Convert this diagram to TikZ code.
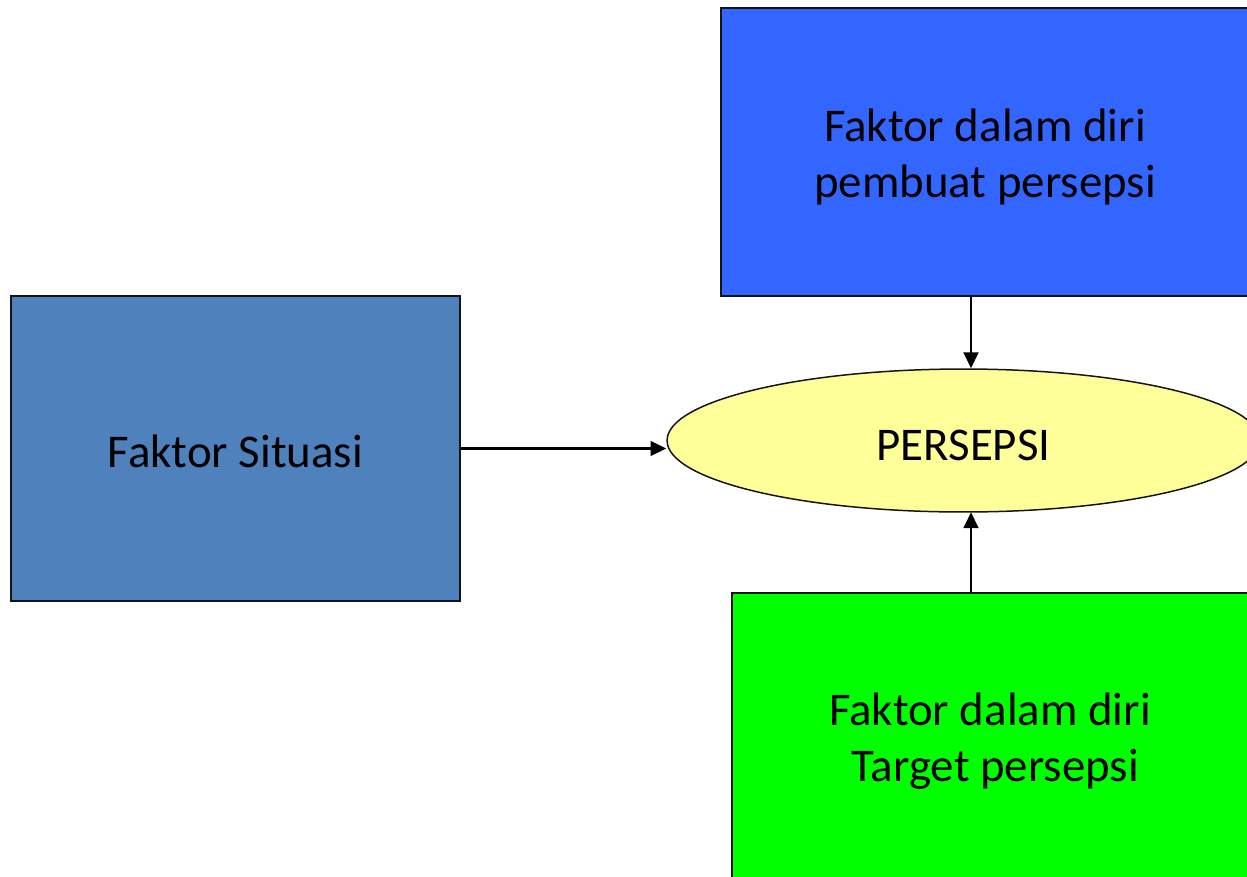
\documentclass[tikz,border=0pt]{standalone}
\usepackage{fontspec}
\setmainfont{Carlito}
\usepackage{xcolor}
\usepackage{tikz}
\usetikzlibrary{calc,positioning,shapes.geometric,arrows.meta}
\definecolor{situcol}{HTML}{4F81BD}
\definecolor{pembcol}{HTML}{3366FF}
\definecolor{targcol}{HTML}{00FF00}
\definecolor{perscol}{HTML}{FFFF99}
\definecolor{edgeline}{HTML}{141414}
\newcommand{\toppad}[1]{\rule{0pt}{#1}}
\tikzset{
  faktorbox/.style = {draw=edgeline, line width=0.85pt, inner sep=0pt,
                      align=center, font=\fontsize{26.7}{32}\selectfont},
  fsitu/.style     = {faktorbox, fill=situcol},
  fpemb/.style     = {faktorbox, fill=pembcol},
  ftarg/.style     = {faktorbox, fill=targcol},
  persnode/.style  = {ellipse, draw=edgeline, line width=0.85pt, inner sep=0pt,
                      fill=perscol, font=\fontsize{26.7}{32}\selectfont},
  arr/.style       = {draw=black, line width=1.15pt,
                      -{Triangle[length=9pt, width=8.4pt]}},
}

\begin{document}
\begin{tikzpicture}[x=0.02cm, y=-0.02cm]

    % ---------- canvas ----------------------------------------------------
    \useasboundingbox (0,0) rectangle (1247,876);
    \clip (0,0) rectangle (1247,876);

    % ---------- centres ---------------------------------------------------
    \coordinate (c-situ) at (235.5,448.5);
    \coordinate (c-pemb) at (985,152);
    \coordinate (c-targ) at (990,741.5);
    \coordinate (c-pers) at (963.5,440.5);
    \coordinate (arrx)   at (971,0);

    % ---------- boxes -----------------------------------------------------
    \node[fsitu, minimum width=8.98cm, minimum height=6.1cm] (situ) at (c-situ)
      {\toppad{22.2pt}Faktor Situasi};
    \node[fpemb, minimum width=10.56cm, minimum height=5.76cm] (pemb) at (c-pemb)
      {\toppad{24.4pt}Faktor dalam diri\\pembuat persepsi};
    \node[ftarg, minimum width=10.32cm, minimum height=5.94cm] (targ) at (c-targ)
      {Faktor dalam diri\\\hspace*{.23em}Target persepsi};

    % ---------- perception -----------------------------------------------
    \node[persnode, minimum width=11.86cm, minimum height=2.86cm] (pers) at (c-pers)
      {\toppad{23pt}PERSEPSI};

    % ---------- arrows ---------------------------------------------------
    \draw[arr] (situ.east) -- (situ.east -| pers.west);
    \draw[arr] (pemb.south -| arrx) -- (pers.north -| arrx);
    \draw[arr] (targ.north -| arrx) -- ($(pers.south -| arrx)+(0,-0.5)$);

\end{tikzpicture}
\end{document}
